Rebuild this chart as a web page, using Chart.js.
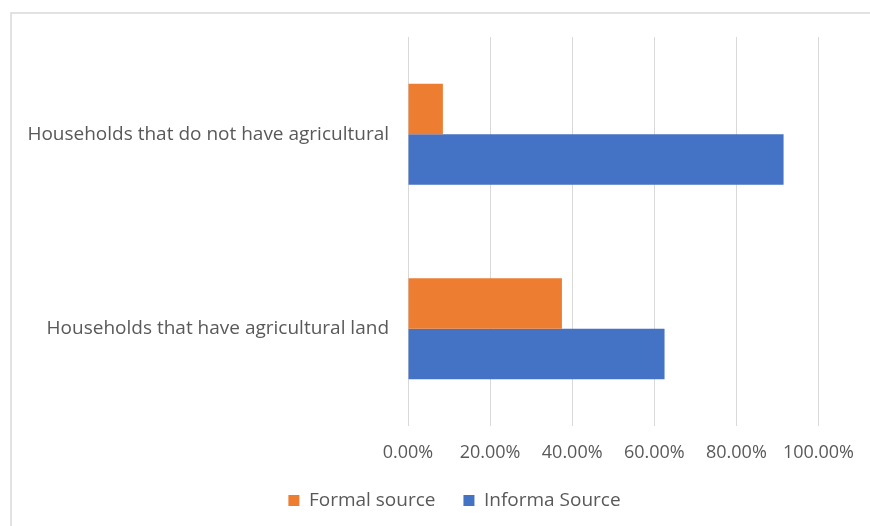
<!DOCTYPE html>
<html>
<head>
<meta charset="utf-8">
<script src="https://cdn.jsdelivr.net/npm/chart.js@4"></script>
<style>
  html, body { margin: 0; padding: 0; background: #ffffff; }
  #wrap { width: 870px; height: 526px; position: relative; }
</style>
</head>
<body>
<div id="wrap"><canvas id="c" width="870" height="526"></canvas></div>
<script>
const categories = [
  "Households that do not have agricultural",
  "Households that have agricultural land"
];
const seriesNames = ["Formal source", "Informa Source"];
const formalValues = [8.5, 37.5];
const informalValues = [91.5, 62.5];
const xTicks = [0, 20, 40, 60, 80, 100];

const TEXT = "#595959";
const FONT = "'Open Sans', 'Liberation Sans', sans-serif";

const borderPlugin = {
  id: 'outerBorder',
  beforeDraw(chart) {
    const ctx = chart.ctx;
    ctx.save();
    ctx.fillStyle = '#ffffff';
    ctx.fillRect(0, 0, chart.width, chart.height);
    ctx.strokeStyle = '#d9d9d9';
    ctx.lineWidth = 1.5;
    ctx.strokeRect(11, 13, 1000, 1000);
    ctx.restore();
  }
};

const legendShift = {
  id: 'legendShift',
  afterLayout(chart) {
    if (chart.legend) {
      chart.legend.left += 45;
      chart.legend.right += 45;
    }
  }
};

new Chart(document.getElementById('c'), {
  type: 'bar',
  data: {
    labels: categories,
    datasets: [
      { label: seriesNames[0], data: formalValues, backgroundColor: '#ED7D31', borderWidth: 0 },
      { label: seriesNames[1], data: informalValues, backgroundColor: '#4472C4', borderWidth: 0 }
    ]
  },
  options: {
    indexAxis: 'y',
    responsive: false,
    animation: false,
    devicePixelRatio: 1,
    categoryPercentage: 0.518,
    barPercentage: 1,
    layout: { padding: { top: 37, right: 51, left: 0, bottom: 6 } },
    scales: {
      x: {
        min: 0, max: 100,
        afterBuildTicks(scale) { scale.ticks = xTicks.map(v => ({ value: v })); },
        grid: { color: '#d9d9d9', lineWidth: 1, drawTicks: false },
        border: { display: false },
        ticks: {
          color: TEXT,
          font: { family: FONT, size: 18 },
          padding: 16,
          callback: v => v.toFixed(2) + '%'
        },
        afterFit(scale) { scale.height = 37; }
      },
      y: {
        grid: { display: false, drawTicks: false },
        border: { display: false },
        ticks: {
          color: TEXT,
          font: { family: FONT, size: 19 },
          padding: 19
        },
        afterFit(scale) { scale.width = 408; }
      }
    },
    plugins: {
      legend: {
        position: 'bottom',
        labels: {
          color: TEXT,
          font: { family: FONT, size: 19 },
          boxWidth: 11,
          boxHeight: 11,
          padding: 28
        }
      },
      tooltip: { enabled: false }
    }
  },
  plugins: [borderPlugin, legendShift]
});
</script>
</body>
</html>
